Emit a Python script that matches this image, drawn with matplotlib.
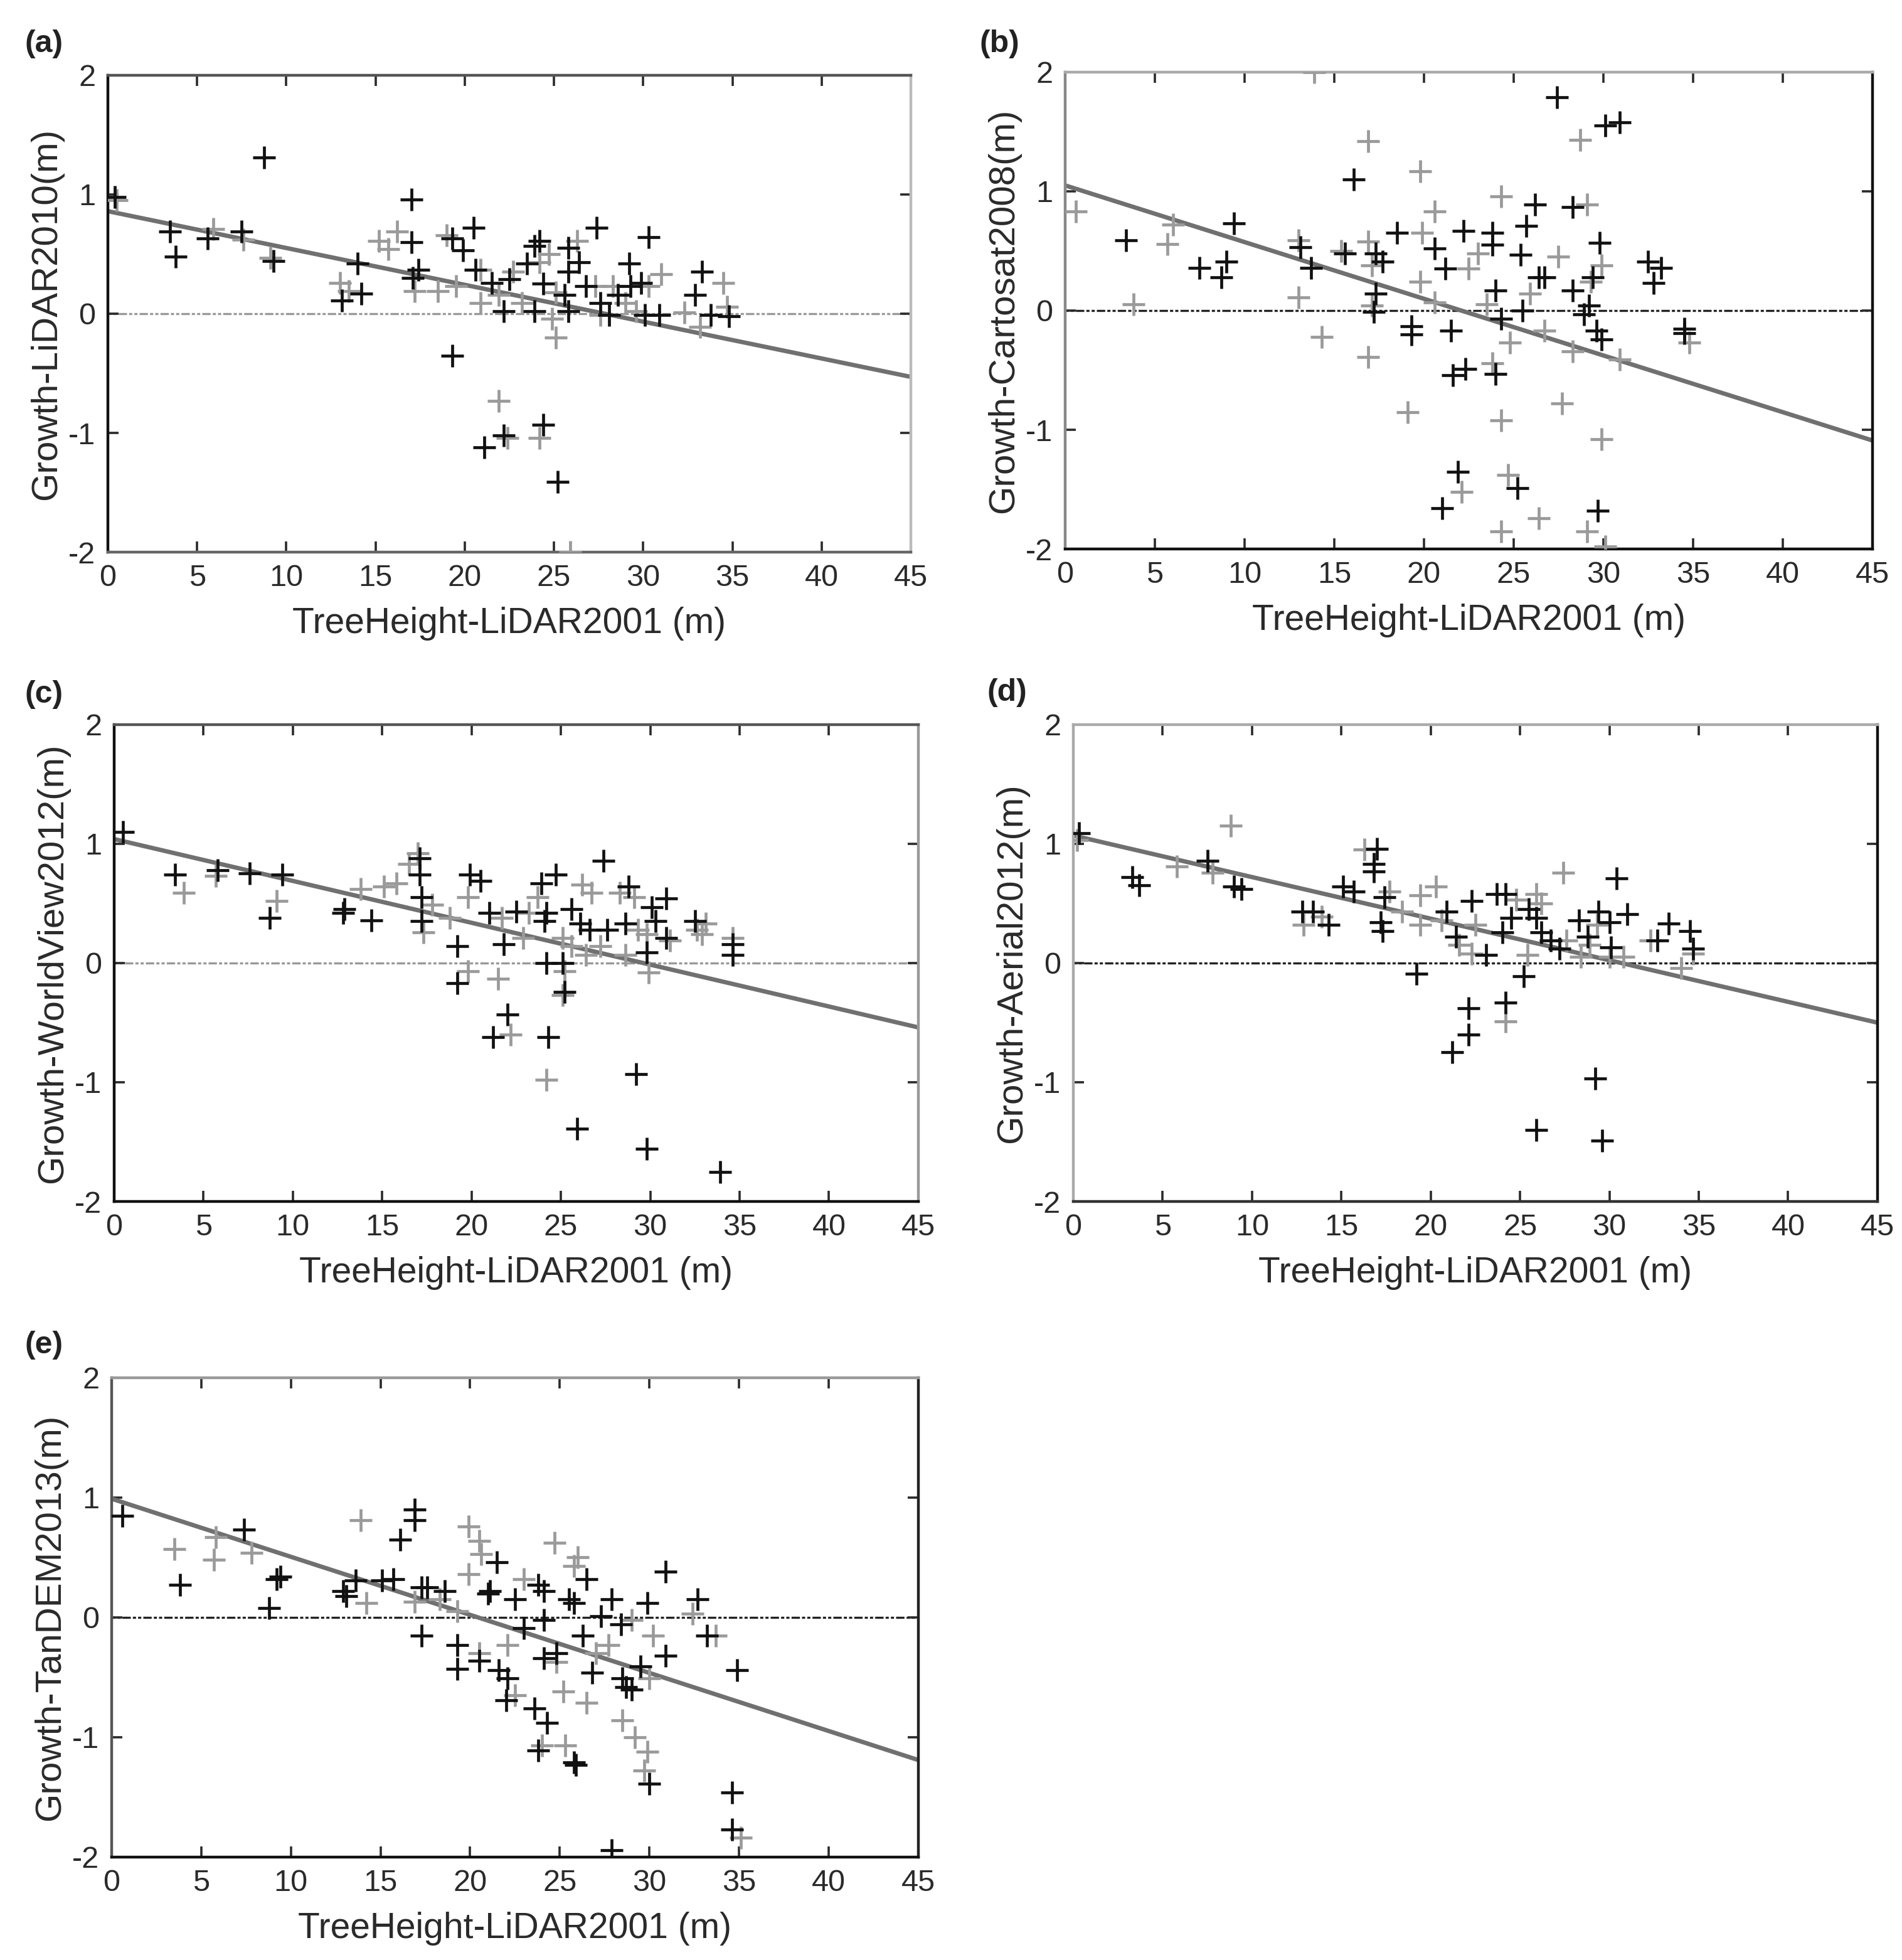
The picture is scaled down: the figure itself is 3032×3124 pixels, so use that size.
import matplotlib
matplotlib.use('Agg')
import matplotlib.pyplot as plt

plt.rcParams['font.family'] = ['Liberation Sans', 'DejaVu Sans']
plt.rcParams['axes.unicode_minus'] = False

xlabel = 'TreeHeight-LiDAR2001 (m)'
panel_tags = ['(a)', '(b)', '(c)', '(d)', '(e)']
ylabels = ['Growth-LiDAR2010(m)', 'Growth-Cartosat2008(m)', 'Growth-WorldView2012(m)',
           'Growth-Aerial2012(m)', 'Growth-TanDEM2013(m)']
xticks = [0, 5, 10, 15, 20, 25, 30, 35, 40, 45]
yticks = [-2, -1, 0, 1, 2]

# fitted lines: value at x=0 and at x=45
fit_start = [0.86, 1.05, 1.04, 1.07, 0.99]
fit_end = [-0.53, -1.09, -0.54, -0.50, -1.19]

# (a) LiDAR2010
a_dark_x = [0.4, 8.75, 3.5, 3.8, 5.6, 7.5, 9.3, 13.1, 14.2, 14.0, 17.0, 17.0, 17.1, 17.4, 19.3, 19.9,
            20.5, 20.6, 19.3, 21.1, 22.2, 24.4, 25.2, 21.5, 22.2, 22.5, 23.5, 23.9, 24.2, 24.4, 23.9,
            25.8, 25.8, 26.4, 25.6, 25.8, 26.8, 27.4, 27.6, 28.1, 28.6, 29.2, 29.3, 29.9, 30.3, 30.1,
            30.9, 32.9, 33.8, 34.8, 33.3]
a_dark_y = [0.98, 1.31, 0.69, 0.48, 0.63, 0.69, 0.44, 0.11, 0.17, 0.42, 0.96, 0.60, 0.30, 0.37, 0.63, 0.53,
            0.72, 0.37, -0.35, -1.12, -1.02, -0.93, -1.41, 0.26, 0.02, 0.29, 0.42, 0.57, 0.61, 0.25, 0.02,
            0.55, 0.35, 0.43, 0.16, 0.02, 0.23, 0.72, 0.09, -0.01, 0.16, 0.42, 0.23, 0.26, 0.64, -0.01,
            -0.01, 0.16, -0.01, -0.02, 0.35]
a_light_x = [0.5, 5.9, 7.6, 9.1, 13.0, 13.5, 15.2, 15.7, 16.2, 17.2, 18.5, 19.0, 19.5, 20.9, 20.9, 21.9,
             22.7, 23.2, 24.2, 24.7, 24.9, 25.1, 26.3, 25.1, 27.3, 27.6, 28.3, 29.0, 29.6, 30.3, 31.0,
             32.3, 33.2, 34.5, 34.7, 21.9, 22.4, 24.2, 25.9]
a_light_y = [0.95, 0.71, 0.62, 0.47, 0.26, 0.19, 0.61, 0.54, 0.69, 0.19, 0.19, 0.66, 0.23, 0.37, 0.09, 0.16,
             0.35, 0.09, 0.43, 0.50, -0.04, -0.20, 0.61, 0.18, 0.23, -0.01, 0.23, 0.09, 0.02, 0.23, 0.33,
             0.01, -0.11, 0.26, 0.06, -0.73, -1.04, -1.04, -2.0]

# (b) Cartosat2008
b_dark_x = [9.4, 3.4, 7.5, 9.0, 8.7, 13.1, 13.7, 16.1, 15.6, 17.3, 17.7, 17.3, 17.2, 18.5, 19.3, 19.3,
            20.6, 21.2, 21.5, 22.2, 21.9, 22.3, 21.6, 23.8, 23.8, 24.0, 24.3, 24.0, 25.2, 25.4, 25.5,
            25.7, 26.2, 26.4, 26.7, 27.4, 28.3, 28.3, 28.9, 29.2, 29.4, 29.6, 29.9, 29.8, 29.7, 30.1,
            30.9, 32.5, 33.2, 32.8, 34.5, 34.5, 21.0]
b_dark_y = [0.73, 0.59, 0.36, 0.41, 0.28, 0.53, 0.36, 1.10, 0.48, 0.48, 0.41, 0.14, -0.01, 0.65, -0.13, -0.20,
            0.52, 0.35, -0.17, 0.67, -1.35, -0.49, -0.54, 0.55, 0.65, 0.17, -0.07, -0.53, -1.49, 0.47, 0.00,
            0.71, 0.89, 0.28, 0.28, 1.79, 0.87, 0.17, -0.03, 0.04, 0.28, -0.17, -0.24, 0.57, -1.68, 1.55,
            1.58, 0.41, 0.36, 0.23, -0.15, -0.19, -1.66]
b_light_x = [0.6, 3.8, 5.7, 6.0, 13.0, 13.0, 14.3, 15.4, 16.9, 16.9, 16.9, 17.1, 17.1, 19.1, 19.8, 19.9,
             19.8, 20.6, 20.6, 22.1, 22.5, 23.0, 23.8, 23.5, 24.3, 24.3, 24.3, 24.7, 24.8, 25.9, 26.4,
             26.7, 27.5, 27.7, 28.7, 29.1, 29.1, 29.9, 29.9, 29.3, 30.9, 34.8, 28.3, 13.9, 30.1]
b_light_y = [0.83, 0.05, 0.56, 0.72, 0.11, 0.59, -0.22, 0.50, 1.42, 0.58, -0.39, 0.38, 0.04, -0.85, 1.17, 0.65,
             0.24, 0.83, 0.07, -1.52, 0.35, 0.48, -0.44, 0.05, -0.92, 0.96, -1.85, -1.38, -0.27, 0.14, -1.74,
             -0.17, 0.45, -0.78, 1.43, 0.89, -1.85, 0.38, -1.08, 0.24, -0.41, -0.27, -0.34, 2.0, -1.98]

# (c) WorldView2012
c_dark_x = [0.5, 3.4, 5.8, 7.6, 9.4, 8.7, 12.9, 12.8, 14.4, 17.1, 17.1, 17.2, 17.2, 19.2, 19.2, 19.9,
            20.5, 21.0, 21.2, 21.8, 22.0, 22.5, 23.9, 24.1, 24.2, 24.3, 24.2, 24.7, 25.1, 25.2, 25.6,
            25.9, 26.1, 26.6, 27.4, 27.6, 28.6, 28.8, 29.2, 29.8, 29.8, 30.1, 30.3, 30.9, 32.5, 33.9,
            34.6, 34.6, 30.9]
c_dark_y = [1.10, 0.74, 0.78, 0.75, 0.74, 0.38, 0.45, 0.42, 0.36, 0.88, 0.74, 0.55, 0.35, -0.17, 0.14, 0.74,
            0.69, 0.42, -0.62, 0.16, -0.43, 0.43, 0.67, 0.35, 0.00, -0.62, 0.42, 0.74, 0.00, -0.24, 0.45,
            -1.39, 0.33, 0.28, 0.86, 0.28, 0.33, 0.64, -0.93, 0.09, -1.56, 0.47, 0.35, 0.54, 0.35, -1.75,
            0.16, 0.07, 0.21]
c_light_x = [3.9, 5.7, 9.1, 13.8, 15.1, 15.8, 16.5, 17.0, 17.3, 17.8, 18.8, 19.8, 19.8, 21.5, 22.2, 21.7,
             22.9, 23.2, 23.7, 24.2, 25.1, 25.2, 25.1, 25.6, 26.2, 26.7, 26.4, 27.2, 28.3, 29.1, 29.3,
             29.8, 29.9, 31.1, 32.6, 33.1, 32.9, 34.6, 28.6]
c_light_y = [0.59, 0.73, 0.52, 0.62, 0.64, 0.67, 0.83, 0.92, 0.26, 0.49, 0.38, 0.55, -0.07, -0.13, -0.60, 0.38,
             0.21, 0.42, 0.55, -0.98, 0.21, -0.07, -0.27, 0.14, 0.66, 0.59, 0.07, 0.14, 0.59, 0.55, 0.28,
             0.24, -0.08, 0.19, 0.28, 0.33, 0.24, 0.21, 0.07]

# (d) Aerial2012
d_dark_x = [0.3, 3.3, 3.7, 7.5, 9.0, 9.4, 12.8, 13.4, 14.3, 15.1, 15.7, 17.0, 16.8, 16.8, 17.4, 17.2,
            17.3, 19.2, 20.9, 21.4, 22.1, 22.1, 21.2, 22.3, 23.1, 23.7, 24.2, 24.2, 24.0, 24.5, 25.2,
            25.5, 25.9, 25.9, 26.2, 26.7, 27.2, 28.3, 28.8, 29.2, 29.4, 29.6, 30.0, 30.1, 30.4, 31.0,
            32.7, 33.3, 34.5, 34.7]
d_dark_y = [1.09, 0.72, 0.65, 0.86, 0.64, 0.62, 0.43, 0.43, 0.32, 0.64, 0.60, 0.96, 0.83, 0.77, 0.55, 0.34,
            0.27, -0.09, 0.43, 0.22, -0.38, -0.60, -0.75, 0.52, 0.07, 0.58, 0.58, -0.33, 0.26, 0.38, -0.11,
            0.45, -1.40, 0.38, 0.26, 0.19, 0.12, 0.36, 0.22, -0.97, 0.43, -1.49, 0.34, 0.13, 0.71, 0.41,
            0.19, 0.33, 0.27, 0.12]
d_light_x = [0.2, 5.8, 7.8, 8.8, 12.9, 13.9, 16.3, 17.7, 18.4, 19.4, 20.3, 19.4, 20.6, 21.6, 22.5, 22.3,
             24.2, 24.8, 25.4, 25.9, 26.2, 27.4, 27.6, 28.4, 28.9, 29.3, 30.0, 30.8, 32.3, 34.0, 34.7]
d_light_y = [1.03, 0.81, 0.76, 1.15, 0.32, 0.39, 0.95, 0.60, 0.43, 0.57, 0.64, 0.32, 0.36, 0.15, 0.32, 0.08,
             -0.49, 0.53, 0.07, 0.58, 0.50, 0.76, 0.19, 0.05, 0.15, 0.32, 0.05, 0.05, 0.19, -0.04, 0.08]

# (e) TanDEM2013
e_dark_x = [0.6, 3.8, 7.4, 8.8, 9.2, 9.4, 12.9, 13.1, 13.6, 15.1, 15.7, 16.1, 16.9, 16.9, 17.3, 17.6,
            17.3, 18.6, 19.3, 19.3, 20.5, 21.0, 21.1, 21.5, 21.6, 22.0, 22.1, 22.5, 23.0, 23.6, 23.8,
            24.1, 24.1, 24.3, 24.1, 23.8, 24.8, 25.5, 25.8, 25.8, 25.9, 26.3, 26.5, 26.8, 27.3, 27.9,
            27.9, 28.4, 28.5, 28.7, 29.0, 29.5, 29.9, 30.0, 30.9, 30.9, 32.7, 33.2, 34.6, 34.6, 34.9]
e_dark_y = [0.85, 0.27, 0.73, 0.08, 0.32, 0.34, 0.22, 0.18, 0.31, 0.31, 0.32, 0.65, 0.90, 0.81, 0.25, 0.25,
            -0.15, 0.22, -0.23, -0.43, -0.36, 0.20, 0.22, 0.46, -0.44, -0.69, -0.51, 0.15, -0.09, -0.76, 0.27,
            0.22, -0.02, -0.88, -0.34, -1.11, -0.30, 0.15, 0.12, -1.21, -1.23, -0.15, 0.32, -0.46, 0.01, 0.15,
            -1.94, -0.06, -0.51, -0.58, -0.60, -0.41, 0.12, -1.39, 0.38, -0.32, 0.15, -0.15, -1.46, -1.77, -0.44]
e_light_x = [3.5, 5.7, 5.8, 7.8, 13.9, 14.2, 16.9, 18.3, 19.3, 19.9, 20.5, 19.9, 20.6, 20.5, 22.1, 22.5,
             23.0, 24.7, 24.8, 25.2, 25.3, 24.0, 26.0, 25.8, 26.5, 27.0, 27.7, 28.5, 29.2, 29.9, 29.7,
             30.2, 30.0, 32.4, 33.7, 35.1, 29.0]
e_light_y = [0.57, 0.48, 0.67, 0.54, 0.81, 0.12, 0.13, 0.15, 0.05, 0.76, 0.64, 0.36, 0.53, -0.30, -0.23, -0.65,
             0.32, 0.62, -0.37, -0.62, -1.07, -1.07, 0.50, 0.43, -0.71, -0.30, -0.23, -0.86, -1.00, -1.12, -1.28,
             -0.15, -0.51, 0.03, -0.15, -1.84, -0.02]

dark_x = [a_dark_x, b_dark_x, c_dark_x, d_dark_x, e_dark_x]
dark_y = [a_dark_y, b_dark_y, c_dark_y, d_dark_y, e_dark_y]
light_x = [a_light_x, b_light_x, c_light_x, d_light_x, e_light_x]
light_y = [a_light_y, b_light_y, c_light_y, d_light_y, e_light_y]

# axes boxes in figure fractions (left, bottom, width, height)
boxes = [[0.0567, 0.7183, 0.4222, 0.2433],
         [0.5600, 0.7199, 0.4245, 0.2433],
         [0.0600, 0.3870, 0.4228, 0.2433],
         [0.5643, 0.3870, 0.4228, 0.2433],
         [0.0587, 0.0525, 0.4241, 0.2446]]
tag_pos = [(0.013, 0.985), (0.515, 0.985), (0.013, 0.653), (0.519, 0.654), (0.013, 0.321)]
# left, bottom, top, right spine colours (scanned figure is uneven)
spine_cols = [('#111111', '#666666', '#555555', '#bbbbbb'),
              ('#888888', '#111111', '#aaaaaa', '#111111'),
              ('#111111', '#111111', '#555555', '#999999'),
              ('#aaaaaa', '#333333', '#aaaaaa', '#111111'),
              ('#555555', '#111111', '#999999', '#222222')]
zero_cols = ['#999999', '#222222', '#999999', '#222222', '#222222']

fig = plt.figure(figsize=(15.16, 15.62), dpi=200)

for i in range(5):
    ax = fig.add_axes(boxes[i])
    ax.axhline(0, color=zero_cols[i], lw=1.2, ls=(0, (1.5, 1, 1.5, 1, 4, 1)), zorder=1)
    ax.plot([0, 45], [fit_start[i], fit_end[i]], color='#707070', lw=2.5, zorder=2)
    ax.plot(light_x[i], light_y[i], '+', color='#9a9a9a', ms=13, mew=1.7, zorder=3)
    ax.plot(dark_x[i], dark_y[i], '+', color='#111111', ms=13, mew=1.7, zorder=4)
    ax.set_xlim(0, 45)
    ax.set_ylim(-2, 2)
    ax.set_xticks(xticks)
    ax.set_yticks(yticks)
    ax.tick_params(direction='in', length=6, width=1.3, top=True, right=True,
                   labelsize=17.5, colors='#2a2a2a', pad=7)
    for side, col in zip(['left', 'bottom', 'top', 'right'], spine_cols[i]):
        ax.spines[side].set_color(col)
        ax.spines[side].set_linewidth(1.6)
    ax.set_xlabel(xlabel, fontsize=20.5, color='#2a2a2a', labelpad=8)
    ax.set_ylabel(ylabels[i], fontsize=21, color='#2a2a2a', labelpad=3)
    fig.text(tag_pos[i][0], tag_pos[i][1], panel_tags[i], fontsize=18, fontweight='bold',
             color='#222222', va='top')

fig.savefig('out.png', dpi=200)
